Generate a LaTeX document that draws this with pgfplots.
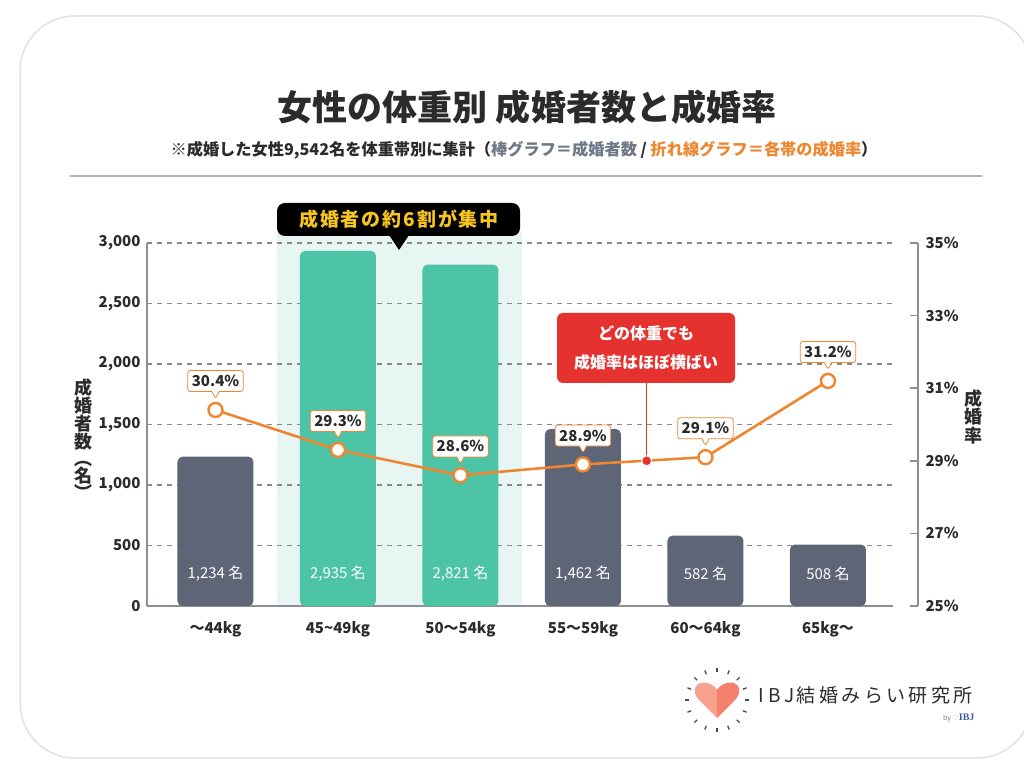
\documentclass[border=0pt]{standalone}
\usepackage{pgfplots}
\pgfplotsset{compat=1.18}
\usepackage{fontspec}
\setmainfont{Noto Sans CJK JP}
\newfontfamily\serifibj{Liberation Serif}
\newfontfamily\dejavu{DejaVu Sans}
\newfontfamily\spaced[LetterSpace=10]{Noto Sans CJK JP}
\newfontfamily\logofont[LetterSpace=18]{Noto Sans CJK JP}
\usetikzlibrary{shapes.callouts}
\definecolor{slate}{HTML}{5E6577}
\definecolor{mint}{HTML}{4DC4A5}
\definecolor{band}{HTML}{E7F6F2}
\definecolor{orng}{HTML}{EE8630}
\definecolor{axgray}{HTML}{8C9096}
\definecolor{gridgray}{HTML}{8A8A8A}
\definecolor{txt}{HTML}{2B2B2B}
\definecolor{redbox}{HTML}{E5322F}
\definecolor{yel}{HTML}{F7C51E}
\definecolor{card}{HTML}{E2E2E2}
\definecolor{heartL}{HTML}{F9A18F}
\definecolor{heartR}{HTML}{F4806D}
\definecolor{subgray}{HTML}{6E7787}
\definecolor{ibjblue}{HTML}{3B5BA5}
\newcommand{\fs}[1]{\fontsize{#1}{#1}\selectfont}
\begin{document}
\begin{tikzpicture}[x=1pt,y=1pt]
\useasboundingbox (0,0) rectangle (1024,771);
\fill[white] (0,0) rectangle (1024,771);
\begin{scope}
\clip (0,0) rectangle (1024,771);
\draw[card, line width=1.5pt, rounded corners=55pt] (20,13) rectangle (1032,755);
\end{scope}
% title
\node[font=\fs{35}\bfseries, text=txt] at (527,664) {女性の体重別 成婚者数と成婚率};
\node[font=\fs{16.2}\bfseries, text=txt] at (524,621) {※成婚した女性9,542名を体重帯別に集計（{\color{subgray}棒グラフ＝成婚者数} / {\color{orng}折れ線グラフ＝各帯の成婚率}）};
\draw[axgray!70, line width=1.3pt] (70,595) -- (982,595);
% highlight band behind the grid
\fill[band] (276.7,165) rectangle (521.7,539);

\begin{axis}[
  at={(147pt,165pt)}, anchor=south west,
  scale only axis, width=746pt, height=363pt,
  xmin=-0.559, xmax=5.531, ymin=0, ymax=3000,
  clip=false,
  axis x line*=bottom, axis y line*=left,
  axis line style={axgray, line width=1.8pt},
  xtick={0,...,5},
  xticklabels={～44kg,45\textasciitilde 49kg,50～54kg,55～59kg,60～64kg,65kg～},
  ytick={0,500,...,3000},
  yticklabels={0,500,{1,000},{1,500},{2,000},{2,500},{3,000}},
  major tick length=0pt,
  ymajorgrids, grid style={gridgray, dash pattern=on 5pt off 5pt, line width=1.1pt},
  xticklabel style={font=\fs{15}\bfseries, text=txt, yshift=-12pt},
  yticklabel style={font=\fs{15}\bfseries, text=txt, xshift=-3pt},
]
\addplot[ybar, bar width=76pt, bar shift=0pt, fill=slate, draw=none, rounded corners=5pt] coordinates {(0,1234) (3,1462) (4,582) (5,508)};
\addplot[ybar, bar width=76pt, bar shift=0pt, fill=mint, draw=none, rounded corners=5pt] coordinates {(1,2935) (2,2821)};
\node[text=white, font=\fs{15}] at (axis cs:0,265) {1,234 名};
\node[text=white, font=\fs{15}] at (axis cs:1,265) {2,935 名};
\node[text=white, font=\fs{15}] at (axis cs:2,265) {2,821 名};
\node[text=white, font=\fs{15}] at (axis cs:3,265) {1,462 名};
\node[text=white, font=\fs{15}] at (axis cs:4,265) {582 名};
\node[text=white, font=\fs{15}] at (axis cs:5,265) {508 名};
\end{axis}

\begin{axis}[
  at={(147pt,165pt)}, anchor=south west,
  scale only axis, width=771pt, height=363pt,
  xmin=-0.559, xmax=5.735, ymin=25, ymax=35,
  clip=false,
  axis x line=none, axis y line*=right,
  axis line style={axgray, line width=1.8pt},
  ytick={25,27,...,35},
  yticklabels={25\%,27\%,29\%,31\%,33\%,35\%},
  tick align=inside, major tick length=8pt,
  tick style={axgray, line width=1.5pt},
  yticklabel style={font=\fs{15}\bfseries, text=txt, xshift=4pt},
]
\draw[redbox, line width=1.5pt] (axis cs:3.52,29.0) -- (axis cs:3.52,31.15);
\addplot[orng, line width=2.6pt, mark=*, mark size=7pt,
  mark options={fill=white, draw=orng, line width=2.4pt},
  point meta=explicit symbolic, nodes near coords,
  every node near coord/.style={rectangle callout, callout relative pointer={(0pt,-7pt)},
    draw=orng, line width=0.8pt, fill=white, rounded corners=2.5pt,
    font=\fs{15}\bfseries, text=txt, anchor=south, yshift=18pt,
    inner xsep=4pt, inner ysep=3pt, minimum height=21pt}]
  coordinates {(0,30.4)[30.4\%] (1,29.3)[29.3\%] (2,28.6)[28.6\%] (3,28.9)[28.9\%] (4,29.1)[29.1\%] (5,31.2)[31.2\%]};
\addplot[only marks, mark=*, mark size=5pt, mark options={fill=redbox, draw=white, line width=1pt}] coordinates {(3.52,29.0)};
\end{axis}

% callouts
\fill[black, rounded corners=8pt] (277,535) rectangle (520,568);
\fill[black] (389,536) -- (409,536) -- (399,521) -- cycle;
\node[text=yel, font=\spaced\bfseries\fs{19}] at (399,552) {成婚者の約6割が集中};
\fill[redbox, rounded corners=6pt] (557,388) rectangle (735,458);
\node[text=white, font=\fontsize{16}{29}\selectfont\bfseries, align=center] at (646,423) {どの体重でも\\成婚率はほぼ横ばい};

% axis titles
\node[text=txt, font=\fontsize{18}{17}\selectfont\bfseries, align=center] at (83,332) {成\\婚\\者\\数\\︵\\名\\︶};
\node[text=txt, font=\fontsize{18}{18}\selectfont\bfseries, align=center] at (973,354) {成\\婚\\率};

% logo
\fill[heartL] (717,53) -- (699,71) .. controls (692,78) and (694,88) .. (703,88.5) .. controls (709,88.8) and (715,85) .. (717,81) -- cycle;
\fill[heartR] (717,53) -- (735,71) .. controls (742,78) and (740,88) .. (731,88.5) .. controls (725,88.8) and (719,85) .. (717,81) -- cycle;
\foreach \a in {0,22.5,...,337.5} \draw[txt!85, line width=1.3pt] ([shift={(\a:28)}]717,71) -- ([shift={(\a:32)}]717,71);
\node[anchor=west, text=txt, font=\logofont\fs{19}] at (755,76) {I\hspace{4pt}B\hspace{4pt}J\hspace{2pt}結婚みらい研究所};
\node[anchor=east, text=gray, font=\fs{7}] at (978,53) {by {\dejavu\color{heartR}♡}{\serifibj\bfseries\fs{10}\color{ibjblue}IBJ}};
\end{tikzpicture}
\end{document}
